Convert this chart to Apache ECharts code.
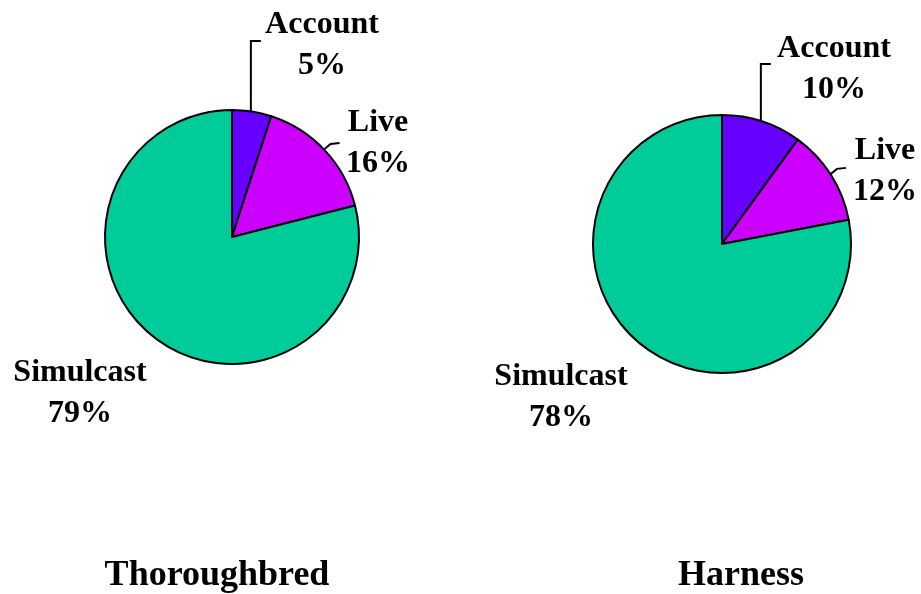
<!DOCTYPE html>
<html><head><meta charset="utf-8">
<script src="https://cdn.jsdelivr.net/npm/echarts@6/dist/echarts.min.js"></script>
<style>html,body{margin:0;padding:0;background:#fff}#c{width:921px;height:594px}</style>
</head><body><div id="c"></div>
<script>
const categories = ['Account', 'Live', 'Simulcast'];
const thoroughbredValues = [5, 16, 79];
const harnessValues = [10, 12, 78];
const pieTitles = ['Thoroughbred', 'Harness'];

const colors = ['#6600FF', '#CC00FF', '#00CC99'];
const FONT = '"Liberation Serif", "Times New Roman", serif';

// layout (presentation only)
const pies = [
  { center: [232, 237], radius: 127, titleX: 217,
    labels: [ {x: 322, y: 45, lead: 'up', ly: 42}, {x: 378, y: 143, lead: 'short'}, {x: 80, y: 393} ] },
  { center: [722, 244], radius: 129, titleX: 741,
    labels: [ {x: 834, y: 69, lead: 'up', ly: 65}, {x: 885, y: 171, lead: 'short'}, {x: 561, y: 397} ] }
];
const valueSets = [thoroughbredValues, harnessValues];

const series = pies.map((p, si) => ({
  type: 'pie',
  center: p.center,
  radius: p.radius,
  startAngle: 90,
  clockwise: true,
  avoidLabelOverlap: false,
  animation: false,
  silent: true,
  itemStyle: { borderColor: '#000', borderWidth: 2 },
  label: {
    show: true,
    formatter: '{b}\n{c}%',
    fontFamily: FONT,
    fontWeight: 'bold',
    fontSize: 32,
    lineHeight: 41,
    color: '#000',
    align: 'center'
  },
  labelLine: { show: true, lineStyle: { color: '#000', width: 2 }, length: 10, length2: 10 },
  labelLayout: function (params) {
    const cfg = p.labels[params.dataIndex];
    const out = { x: cfg.x, y: cfg.y, align: 'center', verticalAlign: 'middle' };
    const vals = valueSets[si];
    let before = 0;
    for (let i = 0; i < params.dataIndex; i++) before += vals[i];
    const mid = (before + vals[params.dataIndex] / 2) / 100 * 2 * Math.PI;
    const sx = p.center[0] + p.radius * Math.sin(mid);
    const sy = p.center[1] - p.radius * Math.cos(mid);
    if (cfg.lead === 'up') {
      out.labelLinePoints = [[sx - 1, sy], [sx - 1, cfg.ly - 1], [sx + 9, cfg.ly - 1]];
    } else if (cfg.lead === 'short') {
      out.labelLinePoints = [[sx, sy - 1], [sx + 6, sy - 6], [sx + 15, sy - 7]];
    } else {
      out.labelLinePoints = [[sx, sy], [sx, sy]];
    }
    return out;
  },
  data: categories.map((c, i) => ({
    name: c,
    value: valueSets[si][i],
    itemStyle: { color: colors[i] },
    labelLine: { show: i < 2 }
  }))
}));

const chart = echarts.init(document.getElementById('c'), null, { renderer: 'canvas' });
chart.setOption({
  backgroundColor: '#fff',
  animation: false,
  series: series,
  graphic: pies.map((p, i) => ({
    type: 'text',
    x: p.titleX,
    y: 576,
    style: {
      text: pieTitles[i],
      fontFamily: FONT,
      fontWeight: 'bold',
      fontSize: 36,
      fill: '#000',
      align: 'center',
      verticalAlign: 'middle'
    }
  }))
});
</script></body></html>
